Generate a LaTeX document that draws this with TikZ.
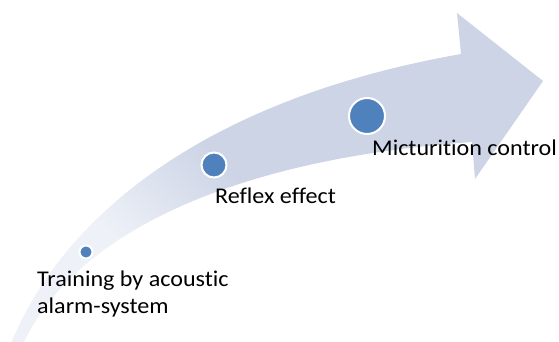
\documentclass[tikz,border=0pt]{standalone}
\usepackage{fontspec}
\setmainfont[Ligatures={NoCommon}]{Carlito}
\definecolor{arrowfill}{RGB}{204,212,230}
\definecolor{arrowlight}{RGB}{238,241,247}
\definecolor{dotblue}{RGB}{79,129,189}
\pgfdeclarehorizontalshading{arrowshade}{100bp}{color(0bp)=(arrowlight); color(32bp)=(arrowlight); color(47bp)=(arrowfill); color(100bp)=(arrowfill)}
\tikzset{
  dot/.style={circle, fill=dotblue, draw=white, line width=2pt, inner sep=0pt},
  lbl/.style={anchor=base west, inner sep=0pt, font=\fontsize{22.5}{27}\selectfont, text=black, align=left}
}
\newcommand{\wtxt}[1]{\scalebox{1.07}[1]{#1}}
\begin{document}
\begin{tikzpicture}[x=1pt,y=-1pt]
\useasboundingbox (0,0) rectangle (559,342);
% curved arrow
\shade[shading=arrowshade, shading angle=45]
  (10,346) .. controls (60,220) and (200,100) .. (461,54)
  -- (457,13) -- (543,81) -- (475,179) -- (472,142)
  .. controls (220,160) and (70,240) .. (22,346) -- cycle;
% dots
\node[dot, minimum size=13pt] (d1) at (86,252) {};
\node[dot, minimum size=25pt] (d2) at (214,165) {};
\node[dot, minimum size=36pt] (d3) at (367,116) {};
% labels
\node[lbl] (t1) at (37,286) {\wtxt{Training by acoustic}};
\node[lbl] (t1b) at (37,313) {\wtxt{alarm-system}};
\node[lbl] (t2) at (215,203) {\wtxt{Reflex effect}};
\node[lbl] (t3) at (372,155) {\wtxt{Micturition control}};
\end{tikzpicture}
\end{document}
